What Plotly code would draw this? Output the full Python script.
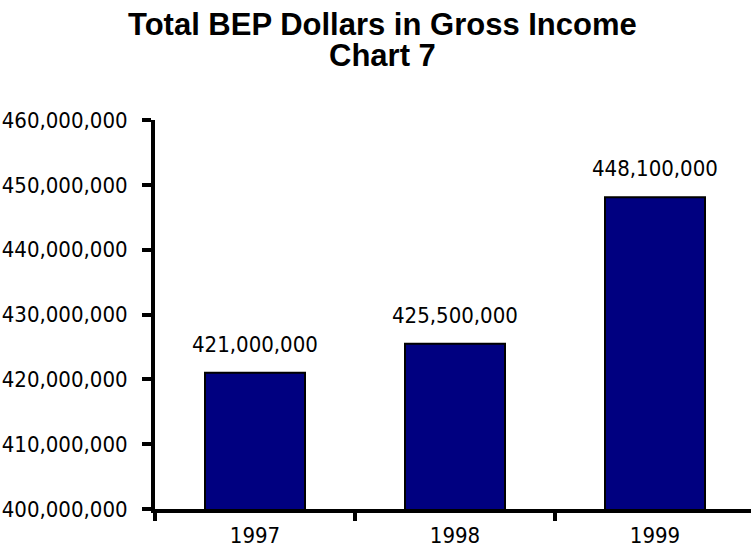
import plotly.graph_objects as go

# Chart data
years = ["1997", "1998", "1999"]
dollars = [421000000, 425500000, 448100000]
y_ticks = [400000000, 410000000, 420000000, 430000000, 440000000, 450000000, 460000000]
y_tick_text = [f"{v:,}" for v in y_ticks]
bar_labels = [f"{v:,}" for v in dollars]

NARROW = "Liberation Sans Narrow, Arial Narrow, DejaVu Sans Condensed, sans-serif"
BOLD = "Liberation Sans, Arial, sans-serif"
NUM_SIZE = 22

W, H = 751, 550
L, R, T, B = 155, 0, 120, 41
plot_w = W - L - R
plot_h = H - T - B

fig = go.Figure()
fig.add_trace(go.Bar(
    x=years,
    y=dollars,
    width=0.5,
    marker=dict(color="#000080", line=dict(color="black", width=2)),
    hoverinfo="x+y",
))

# Value labels above each bar (category index used as x position)
for i, (v, lab) in enumerate(zip(dollars, bar_labels)):
    fig.add_annotation(
        x=i, y=v, xref="x", yref="y", text=lab, showarrow=False,
        xanchor="center", yanchor="bottom", yshift=14,
        font=dict(family=NARROW, size=NUM_SIZE, color="black"),
    )

# Two-line title
def px_x(p):
    return (p - L) / plot_w

def px_y(p):
    return (H - B - p) / plot_h

fig.add_annotation(
    x=px_x(382), y=px_y(25), xref="paper", yref="paper",
    text="<b>Total BEP Dollars in Gross Income</b>", showarrow=False,
    xanchor="center", yanchor="middle",
    font=dict(family=BOLD, size=31, color="black"),
)
fig.add_annotation(
    x=px_x(382), y=px_y(56), xref="paper", yref="paper",
    text="<b>Chart 7</b>", showarrow=False,
    xanchor="center", yanchor="middle",
    font=dict(family=BOLD, size=31, color="black"),
)

fig.update_layout(
    width=W, height=H,
    margin=dict(l=L, r=R, t=T, b=B, pad=0, autoexpand=False),
    paper_bgcolor="white",
    plot_bgcolor="white",
    showlegend=False,
    font=dict(family=NARROW, size=NUM_SIZE, color="black"),
)

fig.update_xaxes(
    type="category",
    range=[-0.5, 2.48],
    automargin=False,
    showline=True, linecolor="black", linewidth=4,
    ticks="outside", tickson="boundaries", ticklen=8, tickwidth=4, tickcolor="black",
    showgrid=False, zeroline=False,
    tickfont=dict(family=NARROW, size=NUM_SIZE, color="black"),
    ticklabelstandoff=4,
)
fig.update_yaxes(
    range=[400000000, 460000000],
    automargin=False,
    tickvals=y_ticks, ticktext=y_tick_text,
    showline=True, linecolor="black", linewidth=4,
    ticks="outside", ticklen=9, tickwidth=4, tickcolor="black",
    showgrid=False, zeroline=False,
    tickfont=dict(family=NARROW, size=NUM_SIZE, color="black"),
    ticklabelstandoff=10,
)

fig.write_html("out.html")
